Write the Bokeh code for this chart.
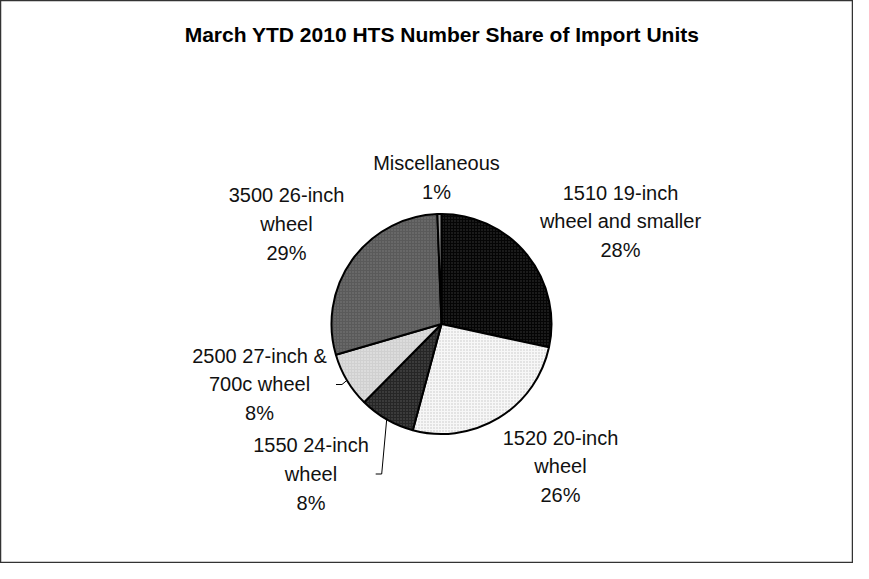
import numpy as np
from bokeh.plotting import figure
from bokeh.models import Range1d, ColumnDataSource
from bokeh.core.properties import value
from bokeh.embed import file_html
from bokeh.resources import INLINE

# ---- data ----
title_text = "March YTD 2010 HTS Number Share of Import Units"
categories = ["1510 19-inch\nwheel and smaller", "1520 20-inch\nwheel", "1550 24-inch\nwheel",
              "2500 27-inch &\n700c wheel", "3500 26-inch\nwheel", "Miscellaneous"]
shares = [28.4, 25.8, 8.2, 8.1, 28.9, 0.6]

# ---- styling / layout ----
fill_colors = ["#050505", "#f7f7f7", "#262626", "#d0d0d0", "#5a5a5a", "#9a9a9a"]
hatch_colors = ["#3a3a3a", "#c4c4c4", "#5a5a5a", "#eeeeee", "#7c7c7c", "#9a9a9a"]
# label centre offsets from the pie centre (screen px, +y downwards)
label_offsets = [(179, -102.5), (119, 142.5), (-130.5, 150), (-182, 60.5), (-155, -100), (-5, -146.5)]
leader = [False, False, True, True, False, False]

W, H = 853, 563
X0, Y0 = 0, 0
cx_s, cy_s, R = 441, 323.5, 110  # pie centre in screen px


def Y(sy):
    return 579 - sy


p = figure(width=W, height=H, output_backend="svg", toolbar_location=None,
           x_range=Range1d(X0, X0 + W), y_range=Range1d(Y(Y0 + H), Y(Y0)),
           x_axis_location=None, y_axis_location=None, min_border=0,
           background_fill_color="white", border_fill_color="white")
p.grid.visible = False
p.outline_line_color = "#333333"
p.outline_line_width = 1.5

vals = np.array(shares, dtype=float)
frac = vals / vals.sum()
cum = np.concatenate([[0], np.cumsum(frac)])
start = np.pi / 2 - 2 * np.pi * cum[:-1]
end = np.pi / 2 - 2 * np.pi * cum[1:]
mid = (start + end) / 2

src = ColumnDataSource(dict(start=start, end=end, fill=fill_colors, hatch=hatch_colors))
p.wedge(x=cx_s, y=Y(cy_s), radius=R, start_angle="start", end_angle="end", direction="clock",
        fill_color="fill", line_color="black", line_width=2,
        hatch_pattern="dot", hatch_color="hatch", hatch_scale=3, hatch_weight=1,
        source=src)

# labels
lx = [cx_s + o[0] for o in label_offsets]
ly = [Y(cy_s + o[1]) for o in label_offsets]
texts = [f"{c}\n{round(v)}%" for c, v in zip(categories, shares)]
p.text(x=lx, y=ly, text=texts, text_align="center", text_baseline="middle",
       text_font=value("Liberation Sans"), text_font_size="20px", text_color="#111111",
       text_line_height=1.3)

# leader lines
for i in range(len(shares)):
    if not leader[i]:
        continue
    ex = cx_s + R * np.cos(mid[i])
    ey = cy_s - R * np.sin(mid[i])
    lys = cy_s + label_offsets[i][1]
    p.line(x=[ex, ex - 5, ex - 11], y=[Y(ey), Y(lys), Y(lys)], line_color="black", line_width=1)

# title
p.text(x=[441.5], y=[Y(34)], text=[title_text], text_align="center", text_baseline="middle",
       text_font=value("Liberation Sans"), text_font_style="bold", text_font_size="21px",
       text_color="black")

open("out.html", "w").write(file_html(p, INLINE))
